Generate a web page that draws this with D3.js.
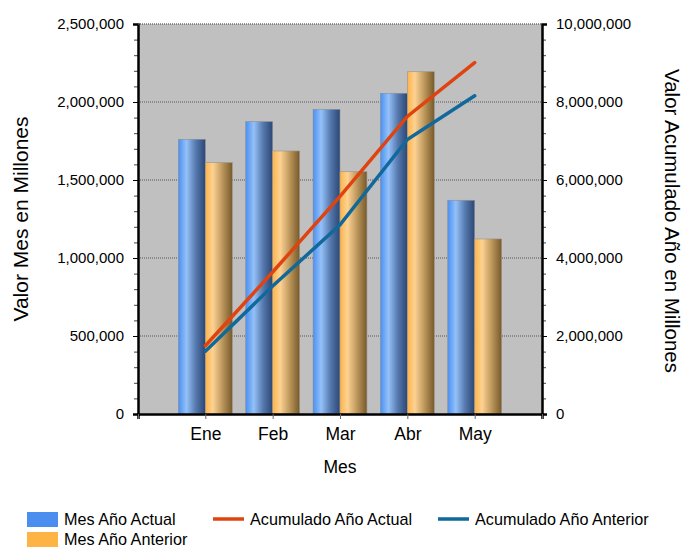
<!DOCTYPE html>
<html>
<head>
<meta charset="utf-8">
<script src="https://cdn.jsdelivr.net/npm/d3@7"></script>
<style>
  body { margin: 0; background: #fff; }
  text { font-family: "Liberation Sans", Arial, sans-serif; fill: #000; }
</style>
</head>
<body>
<div id="chart"></div>
<script>
// data
var months = ["Ene", "Feb", "Mar", "Abr", "May"];
var mesActual = [1761000, 1874000, 1953000, 2056000, 1370000];
var mesAnterior = [1611000, 1686000, 1553000, 2194000, 1122000];
var acumActual = [1750000, 3640000, 5580000, 7630000, 9010000];
var acumAnterior = [1610000, 3280000, 4850000, 7040000, 8160000];
var leftTicks = [0, 500000, 1000000, 1500000, 2000000, 2500000];
var rightTicks = [0, 2000000, 4000000, 6000000, 8000000, 10000000];

var W = 688, H = 547;
var margin = {top: 24, right: 146, bottom: 133, left: 138},
    width = W - margin.left - margin.right,
    height = H - margin.top - margin.bottom;

var svg = d3.select("#chart")
  .append("svg")
    .attr("width", W)
    .attr("height", H);

var defs = svg.append("defs");
function grad(id, stops) {
  var g = defs.append("linearGradient").attr("id", id)
    .attr("x1", "0").attr("x2", "1").attr("y1", "0").attr("y2", "0");
  stops.forEach(function(s) {
    g.append("stop").attr("offset", s[0]).attr("stop-color", s[1]);
  });
}
grad("gBlue", [[0, "#4a90f2"], [0.3, "#94c1f8"], [0.65, "#5578ad"], [1, "#2b4774"]]);
grad("gOrange", [[0, "#feb348"], [0.28, "#fdd293"], [0.65, "#b99459"], [1, "#77592a"]]);

var g = svg.append("g")
  .attr("transform", "translate(" + margin.left + "," + margin.top + ")");

var x = d3.scaleLinear().domain([0, 6]).range([0, width]);
var yL = d3.scaleLinear().domain([0, 2500000]).range([height, 0]);
var yR = d3.scaleLinear().domain([0, 10000000]).range([height, 0]);
var step = x(1) - x(0);
var barW = step * 0.4;

// plot background
g.append("rect")
  .attr("width", width)
  .attr("height", height)
  .attr("fill", "#c0c0c0");

// gridlines
g.append("g")
  .selectAll("line")
  .data(leftTicks.slice(1))
  .enter()
  .append("line")
    .attr("x1", 0).attr("x2", width)
    .attr("y1", function(d) { return yL(d); })
    .attr("y2", function(d) { return yL(d); })
    .attr("stroke", "#555")
    .attr("stroke-dasharray", "1,1");

// bars
var bars = g.append("g");
bars.selectAll(".actual")
  .data(mesActual)
  .enter()
  .append("rect")
    .attr("x", function(d, i) { return x(i + 1) - barW; })
    .attr("y", function(d) { return yL(d); })
    .attr("width", barW)
    .attr("height", function(d) { return height - yL(d); })
    .attr("fill", "url(#gBlue)")
    .attr("stroke", "#8a8f98")
    .attr("stroke-width", 0.6);
bars.selectAll(".anterior")
  .data(mesAnterior)
  .enter()
  .append("rect")
    .attr("x", function(d, i) { return x(i + 1); })
    .attr("y", function(d) { return yL(d); })
    .attr("width", barW)
    .attr("height", function(d) { return height - yL(d); })
    .attr("fill", "url(#gOrange)")
    .attr("stroke", "#98948a")
    .attr("stroke-width", 0.6);

// cumulative lines
var line = d3.line()
  .x(function(d, i) { return x(i + 1); })
  .y(function(d) { return yR(d); });
g.append("path")
  .datum(acumActual)
  .attr("d", line)
  .attr("fill", "none")
  .attr("stroke", "#df4410")
  .attr("stroke-width", 3.5)
  .attr("stroke-linecap", "round");
g.append("path")
  .datum(acumAnterior)
  .attr("d", line)
  .attr("fill", "none")
  .attr("stroke", "#10699a")
  .attr("stroke-width", 3.5)
  .attr("stroke-linecap", "round");

// left axis
var fmt = d3.format(",");
g.append("g")
  .call(d3.axisLeft(yL).tickValues(d3.range(0, 2500001, 100000)).tickSize(4).tickFormat(""))
  .call(function(a) { a.select(".domain").remove(); a.selectAll("line").attr("stroke", "#444"); });
g.append("g")
  .call(d3.axisLeft(yL).tickValues(leftTicks).tickSize(5).tickPadding(9).tickFormat(fmt))
  .call(function(a) {
    a.select(".domain").attr("stroke-width", 2.5);
    a.selectAll("text").style("font-size", "15px").attr("font-family", null);
  });

// right axis
g.append("g")
  .attr("transform", "translate(" + width + ",0)")
  .call(d3.axisRight(yR).tickValues(d3.range(0, 10000001, 400000)).tickSize(4).tickFormat(""))
  .call(function(a) { a.select(".domain").remove(); a.selectAll("line").attr("stroke", "#444"); });
g.append("g")
  .attr("transform", "translate(" + width + ",0)")
  .call(d3.axisRight(yR).tickValues(rightTicks).tickSize(5).tickPadding(9).tickFormat(fmt))
  .call(function(a) {
    a.select(".domain").attr("stroke-width", 2.5);
    a.selectAll("text").style("font-size", "15px").attr("font-family", null);
  });

// bottom axis
g.append("g")
  .attr("transform", "translate(0," + height + ")")
  .call(d3.axisBottom(x).tickValues(d3.range(0, 7)).tickSize(5).tickPadding(9)
    .tickFormat(function(i) { return months[i - 1] || ""; }))
  .call(function(a) {
    a.select(".domain").attr("stroke-width", 2.5);
    a.selectAll("line").attr("stroke", "#666");
    a.selectAll("text").style("font-size", "17.5px").attr("font-family", null);
  });

// top border
g.append("line")
  .attr("x1", 0).attr("x2", width)
  .attr("y1", 0).attr("y2", 0)
  .attr("stroke", "#777")
  .attr("stroke-dasharray", "1,1");

// titles
svg.append("text")
  .text("Mes")
  .attr("x", margin.left + width / 2)
  .attr("y", 473)
  .attr("text-anchor", "middle")
  .style("font-size", "17.5px");
svg.append("text")
  .text("Valor Mes en Millones")
  .attr("text-anchor", "middle")
  .attr("transform", "translate(28," + (margin.top + height / 2) + ")rotate(-90)")
  .style("font-size", "21px");
svg.append("text")
  .text("Valor Acumulado Año en Millones")
  .attr("text-anchor", "middle")
  .attr("transform", "translate(665," + (margin.top + height / 2 + 2) + ")rotate(90)")
  .style("font-size", "20.5px");

// legend
var leg = svg.append("g").style("font-size", "16.2px");
leg.append("rect").attr("x", 27).attr("y", 512).attr("width", 31).attr("height", 15).attr("fill", "#4a8ef0");
leg.append("text").text("Mes Año Actual").attr("x", 64).attr("y", 525);
leg.append("rect").attr("x", 27).attr("y", 532).attr("width", 31).attr("height", 15).attr("fill", "#fdb445");
leg.append("text").text("Mes Año Anterior").attr("x", 64).attr("y", 545);
leg.append("line").attr("x1", 213).attr("x2", 244).attr("y1", 519).attr("y2", 519)
  .attr("stroke", "#df4410").attr("stroke-width", 3.5);
leg.append("text").text("Acumulado Año Actual").attr("x", 250).attr("y", 525);
leg.append("line").attr("x1", 438).attr("x2", 469).attr("y1", 519).attr("y2", 519)
  .attr("stroke", "#10699a").attr("stroke-width", 3.5);
leg.append("text").text("Acumulado Año Anterior").attr("x", 475).attr("y", 525);
</script>
</body>
</html>
